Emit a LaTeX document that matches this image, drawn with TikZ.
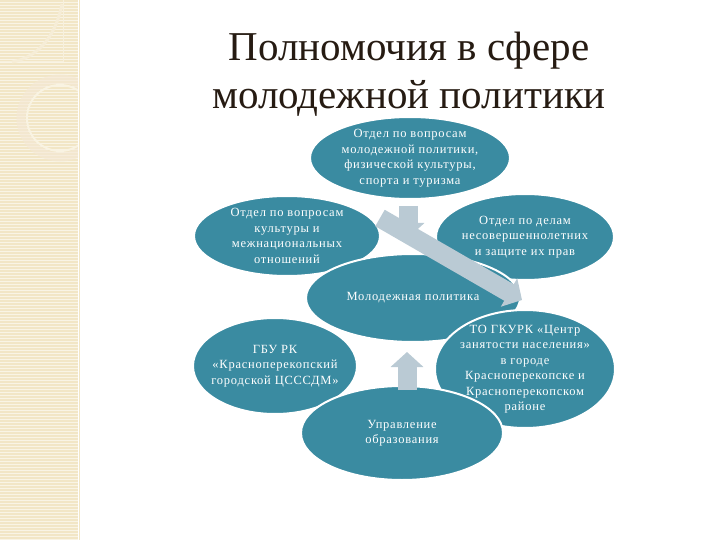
\documentclass[tikz,border=0pt]{standalone}
\usepackage{fontspec}
\setmainfont{Liberation Serif}
\newfontfamily\ovalfont[LetterSpace=6]{Liberation Serif}
\usepackage{tikz}
\usetikzlibrary{patterns,shapes.geometric,arrows.meta}

\definecolor{ovalteal}{RGB}{58,139,161}
\definecolor{arrowgray}{RGB}{186,202,212}
\definecolor{stripbeige}{RGB}{242,230,198}
\definecolor{titlebrown}{RGB}{38,27,18}

\tikzset{
  oval/.style={ellipse, fill=ovalteal, draw=white, line width=2pt, text=white,
    align=center, inner sep=-30pt, font=\ovalfont\fontsize{12.5}{15.5}\selectfont},
  blockarrow/.style={line width=19pt, draw=arrowgray,
    -{Triangle[length=15pt,width=32pt]}},
}

\begin{document}
\begin{tikzpicture}[x=1pt, y=-1pt]
            \useasboundingbox (0,0) rectangle (720,540);

            % draw beige strip on the left
            \fill[stripbeige] (0,0) rectangle (80,540);
            \fill[pattern=horizontal lines, pattern color=white!55!stripbeige] (0,0) rectangle (78,540);
            \draw[white, line width=1pt] (78,0) -- (78,540);
            \begin{scope}
              \clip (0,0) rectangle (78,540);
              \draw[white!40!stripbeige, line width=1pt] (0,62) -- (63,62) -- (63,0);
              \draw[white!30!stripbeige, line width=3pt] (62,4) .. controls (55,40) and (35,58) .. (12,62);
              \draw[stripbeige!80!brown!50!white, line width=9pt, opacity=0.6] (60,118) circle (39);
              \draw[white!50!stripbeige, line width=2pt] (60,118) circle (33);
            \end{scope}

            % draw title
            \node[font=\fontsize{41}{48}\selectfont, text=titlebrown, align=center] (title) at (409,74)
              {Полномочия в сфере\\молодежной политики};

            % draw ovals
            \node[oval, minimum width=200pt, minimum height=82pt] (youth) at (410,158)
              {Отдел по вопросам\\молодежной политики,\\физической культуры,\\спорта и туризма};
            \node[oval, minimum width=186pt, minimum height=80pt] (culture) at (287,236)
              {Отдел по вопросам\\культуры и\\межнациональных\\отношений};
            \node[oval, minimum width=178pt, minimum height=86pt] (minors) at (525,237)
              {Отдел по делам\\несовершеннолетних\\и защите их прав};
            \node[oval, minimum width=214pt, minimum height=88pt] (policy) at (413,298)
              {Молодежная политика};
            \node[oval, minimum width=164pt, minimum height=96pt] (centre) at (275,366)
              {ГБУ РК\\«Красноперекопский\\городской ЦСССДМ»};
            \node[oval, minimum width=180pt, minimum height=118pt] (employ) at (525,369)
              {ТО ГКУРК «Центр\\занятости населения»\\в городе\\Красноперекопске и\\Красноперекопском\\районе};
            \node[oval, minimum width=202pt, minimum height=94pt] (educ) at (402,433)
              {Управление\\образования};

            % draw block arrows
            \coordinate (diagfrom) at (380,218);
            \coordinate (diagto) at (522,300);
            \coordinate (downfrom) at (408,206);
            \coordinate (downto) at (408,238);
            \coordinate (upfrom) at (407,390);
            \coordinate (upto) at (407,352);
            \draw[blockarrow] (diagfrom) -- (diagto);
            \draw[blockarrow] (downfrom) -- (downto);
            \draw[blockarrow] (upfrom) -- (upto);
        \end{tikzpicture}
\end{document}
